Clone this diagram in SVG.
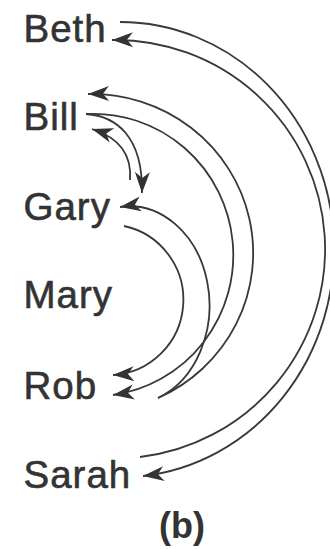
<svg xmlns="http://www.w3.org/2000/svg" width="330" height="549" viewBox="0 0 330 549">
<style>
.lbl{font-family:"Liberation Sans",Arial,sans-serif;font-size:38.5px;fill:#333;stroke:#333;stroke-width:0.6;letter-spacing:1px}
.cap{font-family:"Liberation Sans",Arial,sans-serif;font-size:36px;font-weight:bold;fill:#333;text-anchor:middle}
.c{fill:none;stroke:#383838;stroke-width:1.8}
.a{marker-end:url(#ah)}
</style>
<defs>
<marker id="ah" markerUnits="userSpaceOnUse" viewBox="-24 -10 26 20" markerWidth="26" markerHeight="20" refX="0" refY="0" orient="auto" overflow="visible">
<path d="M0,0 L-21,-7.5 L-15,0 L-21,7.5 Z" fill="#333"/>
</marker>
</defs>
<rect width="330" height="549" fill="#fff"/>
<g id="beth"><text class="lbl" x="23.5" y="42">Beth</text></g>
<g id="bill"><text class="lbl" x="23.5" y="130">Bill</text></g>
<g id="gary"><text class="lbl" x="23.5" y="220">Gary</text></g>
<g id="mary"><text class="lbl" x="23.5" y="308">Mary</text></g>
<g id="rob"><text class="lbl" x="23.5" y="399">Rob</text></g>
<g id="sarah"><text class="lbl" x="23.5" y="488">Sarah</text></g>
<g id="caption"><text class="cap" x="182" y="538">(b)</text></g>
<g id="connectors">
<path class="c a" d="M120,22 A214,227.66 0 0 1 143,476"/>
<path class="c a" d="M140,457 A210,209.25 0 0 0 112,40"/>
<path class="c a" d="M158,398 A162,159.1 0 0 0 88,94"/>
<path class="c a" d="M86,114 A140,141.3 0 0 1 113,395"/>
<path class="c a" d="M158,398 A80,99.1 0 0 0 120,207"/>
<path class="c a" d="M124,226 A75,75.4 0 0 1 113,375"/>
<path class="c a" d="M86,114 C115,116 143,135 142,193"/>
<path class="c a" d="M130,180 C132,155 120,138 92,129"/>
</g>
</svg>
